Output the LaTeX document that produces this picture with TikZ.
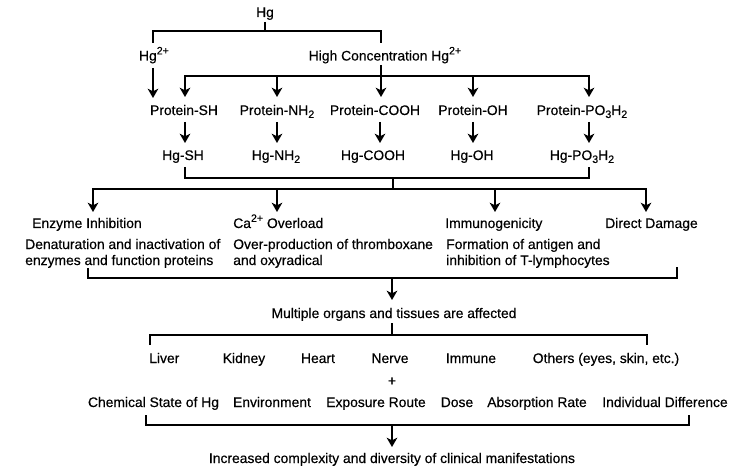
\documentclass[tikz,border=0pt]{standalone}
\usepackage{fontspec}
\setmainfont{Liberation Sans}[FakeBold=0.4]
\usetikzlibrary{arrows.meta}
\newcommand{\supx}[1]{\raisebox{4.6pt}{\fontsize{8}{9}\selectfont #1}}
\newcommand{\subx}[1]{\raisebox{-2.2pt}{\fontsize{8}{9}\selectfont #1}}
\tikzset{
  lbl/.style={font=\fontsize{10.4}{12}\selectfont, inner sep=0pt, anchor=base},
  lblw/.style={lbl, anchor=base west},
  ln/.style={line width=1.1pt},
  arr/.style={ln, -{Stealth[length=7pt,width=8pt,inset=2pt]}},
}
\begin{document}
\begin{tikzpicture}[x=0.75pt,y=-0.75pt]
\useasboundingbox (0,0) rectangle (750,474);
% ---------- nodes ----------
\node[lbl] (hg)  at (265,17) {Hg};
\node[lbl] (hg2) at (154,60.5) {Hg\supx{2+}};
\node[lbl] (hc)  at (385,60.5) {High Concentration Hg\supx{2+}};
\node[lbl] (psh) at (184,115) {Protein-SH};
\node[lbl] (pnh) at (277,115) {Protein-NH\subx{2}};
\node[lbl] (pco) at (375,115) {Protein-COOH};
\node[lbl] (poh) at (473,115) {Protein-OH};
\node[lbl] (ppo) at (582,115) {Protein-PO\subx{3}H\subx{2}};
\node[lbl] (hsh) at (183,160) {Hg-SH};
\node[lbl] (hnh) at (276,160) {Hg-NH\subx{2}};
\node[lbl] (hco) at (373,160) {Hg-COOH};
\node[lbl] (hoh) at (472,160) {Hg-OH};
\node[lbl] (hpo) at (582,160) {Hg-PO\subx{3}H\subx{2}};
\node[lblw] (ei)  at (32,228) {Enzyme Inhibition};
\node[lblw] (ca)  at (233,228) {Ca\supx{2+} Overload};
\node[lblw] (im)  at (445,228) {Immunogenicity};
\node[lblw] (dd)  at (605,228) {Direct Damage};
\node[lblw] (eia) at (25,249) {Denaturation and inactivation of};
\node[lblw] (eib) at (25,265) {enzymes and function proteins};
\node[lblw] (caa) at (233,249) {Over-production of thromboxane};
\node[lblw] (cab) at (233,265) {and oxyradical};
\node[lblw] (ima) at (446,249) {Formation of antigen and};
\node[lblw] (imb) at (446,265) {inhibition of T-lymphocytes};
\node[lbl] (mo)  at (394,318) {Multiple organs and tissues are affected};
\node[lblw] (liv) at (149,363) {Liver};
\node[lbl] (kid) at (244,363) {Kidney};
\node[lbl] (hea) at (318,363) {Heart};
\node[lbl] (ner) at (390,363) {Nerve};
\node[lbl] (imu) at (471,363) {Immune};
\node[lbl] (oth) at (606,363) {Others (eyes, skin, etc.)};
\node[lbl] (plus) at (392,385.5) {+};
\node[lbl] (chs) at (153.5,407) {Chemical State of Hg};
\node[lbl] (env) at (272,407) {Environment};
\node[lbl] (exr) at (376,407) {Exposure Route};
\node[lbl] (dos) at (457,407) {Dose};
\node[lbl] (abr) at (537,407) {Absorption Rate};
\node[lbl] (ind) at (665,407) {Individual Difference};
\node[lbl] (inc) at (392,463) {Increased complexity and diversity of clinical manifestations};
% ---------- connector points ----------
\coordinate (t0) at (265,22);
\coordinate (t1) at (265,31);
\coordinate (l1) at (153,43);
\coordinate (r1) at (381,43);
\coordinate (h2s) at (153,68);
\coordinate (h2e) at (153,98);
\coordinate (hcs) at (381,65);
\coordinate (hce) at (381,97);
\coordinate (b2) at (381,76);
\coordinate (pshin) at (185,97);
\coordinate (pnhin) at (277,97);
\coordinate (pohin) at (473,97);
\coordinate (ppoin) at (589,97);
\foreach \n/\x in {sh/185,nh/277,co/380,oh/473,po/589}{
  \coordinate (p\n o) at (\x,122);
  \coordinate (h\n i) at (\x,143);
  \coordinate (h\n o) at (\x,167);
}
\coordinate (b3) at (393,178);
\coordinate (b3s) at (393,189);
\coordinate (eiin) at (93,212);
\coordinate (cain) at (277,212);
\coordinate (imin) at (495,212);
\coordinate (ddin) at (646,212);
\coordinate (eio) at (88,268);
\coordinate (ddo) at (677,267);
\coordinate (b4) at (392,278);
\coordinate (moin) at (392,300);
\coordinate (moo) at (392,323);
\coordinate (b5) at (392,335);
\coordinate (livin) at (150,345);
\coordinate (othin) at (647,345);
\coordinate (chso) at (146,415);
\coordinate (indo) at (689,415);
\coordinate (b6) at (392,425);
\coordinate (incin) at (392,447);
% ---------- connectors ----------
\draw[ln] (t0) -- (t1);
\draw[ln] (l1) |- (t1) -| (r1);
\draw[arr] (h2s) -- (h2e);
\draw[arr] (hcs) -- (hce);
\draw[arr] (b2) -| (pshin);
\draw[arr] (b2) -| (ppoin);
\draw[arr] (b2 -| pnhin) -- (pnhin);
\draw[arr] (b2 -| pohin) -- (pohin);
\foreach \n in {sh,nh,co,oh,po}{
  \draw[arr] (p\n o) -- (h\n i);
}
\draw[ln] (hsho) |- (b3) -| (hpoo);
\draw[ln] (b3) -- (b3s);
\draw[arr] (b3s) -| (eiin);
\draw[arr] (b3s) -| (ddin);
\draw[arr] (b3s -| cain) -- (cain);
\draw[arr] (b3s -| imin) -- (imin);
\draw[ln] (eio) |- (b4) -| (ddo);
\draw[arr] (b4) -- (moin);
\draw[ln] (moo) -- (b5);
\draw[ln] (livin) |- (b5) -| (othin);
\draw[ln] (chso) |- (b6) -| (indo);
\draw[arr] (b6) -- (incin);
\end{tikzpicture}
\end{document}
